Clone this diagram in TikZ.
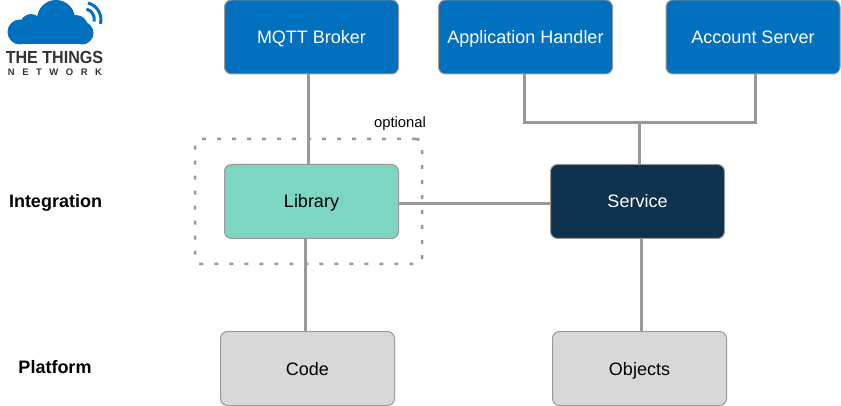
\documentclass[tikz,border=0pt]{standalone}
\usepackage{fontspec}
\setmainfont{Liberation Sans}
\definecolor{ttnblue}{HTML}{0170BF}
\definecolor{ttnteal}{HTML}{7DD6C2}
\definecolor{ttnnavy}{HTML}{0E324D}
\definecolor{ttngrey}{HTML}{D8D8D8}
\definecolor{linkgrey}{HTML}{999999}
\definecolor{logotext}{HTML}{333333}
\tikzset{
  box/.style={draw=linkgrey,line width=1pt,rounded corners=7pt,minimum width=174pt,minimum height=74pt,outer sep=0pt,text height=13pt,text depth=0pt,font=\fontsize{18}{20}\selectfont},
  server/.style={box,fill=ttnblue,text=white},
  library/.style={box,fill=ttnteal,text=black},
  service/.style={box,fill=ttnnavy,text=white},
  device/.style={box,fill=ttngrey,text=black},
  link/.style={draw=linkgrey,line width=3pt},
  level/.style={text height=13pt,text depth=0pt,font=\fontsize{18}{20}\selectfont\bfseries,text=black},
  signal/.style={draw=ttnblue,line width=3pt}
}
\begin{document}
\begin{tikzpicture}[x=1pt,y=-1pt]
  \useasboundingbox (0,0) rectangle (841,406);
  % logo
  \fill[ttnblue] (20,32) circle[radius=12.5];
  \fill[ttnblue] (31,25) circle[radius=11];
  \fill[ttnblue] (56,19) circle[radius=19];
  \fill[ttnblue] (76,27) circle[radius=12];
  \fill[ttnblue] (82,33) circle[radius=11.5];
  \fill[ttnblue] (20,30) rectangle (82,44.5);
  \draw[signal] (88,3) arc[start angle=-75,end angle=13,radius=17.5];
  \draw[signal] (86.5,9) arc[start angle=-75,end angle=13,radius=10.5];
  \node[inner sep=0pt,text=logotext,text height=13pt,text depth=0pt] (logoname) at (54.5,57) {\scalebox{0.92}[1]{\fontsize{17.5}{18}\selectfont\bfseries THE THINGS}};
  \node[inner sep=0pt,text=logotext,text height=6.5pt,text depth=0pt] (logonet) at (55,72) {\makebox[94pt][s]{\fontsize{9.5}{10}\selectfont\bfseries N\hfill E\hfill T\hfill W\hfill O\hfill R\hfill K}};
  % optional area
  \node[draw=linkgrey,line width=2.5pt,dash pattern=on 4pt off 11pt,rounded corners=6pt,minimum width=227pt,minimum height=125pt] (area) at (308.5,201.5) {};
  \node[font=\fontsize{14.8}{16}\selectfont] (areaname) at (400,123.5) {optional};
  % boxes
  \node[server] (mqtt) at (311.5,37) {MQTT Broker};
  \node[server] (handler) at (525.5,37) {Application Handler};
  \node[server] (account) at (753,37) {Account Server};
  \node[library] (lib) at (311.5,201.5) {Library};
  \node[service] (srv) at (637.5,201.5) {Service};
  \node[device] (code) at (307.5,368.5) {Code};
  \node[device] (objects) at (639.5,368.5) {Objects};
  \node[level] (integration) at (55.5,201) {Integration};
  \node[level] (platform) at (55,367) {Platform};
  % connectors
  \coordinate (mqttx) at (308,0);
  \coordinate (codex) at (305.5,0);
  \coordinate (handlerx) at (524.5,0);
  \coordinate (accountx) at (755,0);
  \coordinate (busx) at (639.5,0);
  \coordinate (objectsx) at (641,0);
  \coordinate (busy) at (0,122.5);
  \coordinate (liby) at (0,203.5);
  \draw[link] (mqttx |- mqtt.south) -- (mqttx |- lib.north);
  \draw[link] (codex |- lib.south) -- (codex |- code.north);
  \draw[link] (lib.east |- liby) -- (srv.west |- liby);
  \draw[link] (handlerx |- handler.south) -- (handlerx |- busy) -- (accountx |- busy) -- (accountx |- account.south);
  \draw[link] (busx |- busy) -- (busx |- srv.north);
  \draw[link] (objectsx |- srv.south) -- (objectsx |- objects.north);
\end{tikzpicture}
\end{document}
